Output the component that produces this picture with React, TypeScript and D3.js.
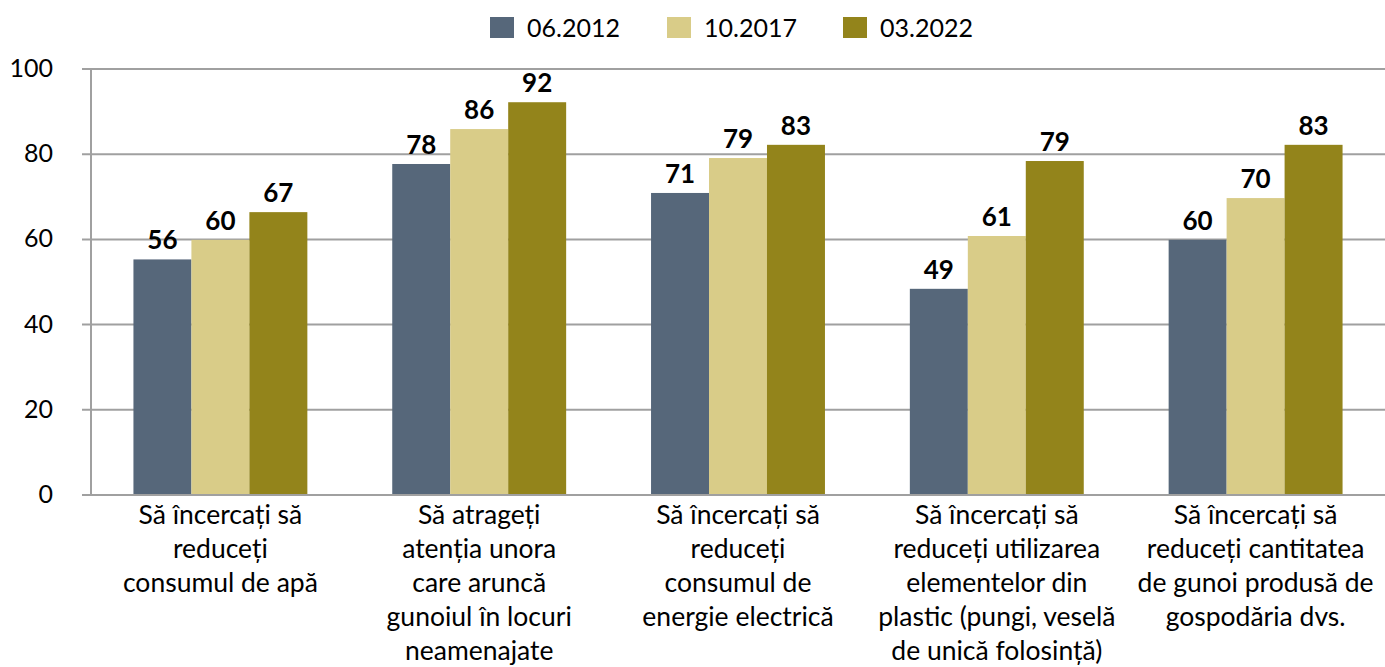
import React from "react";
import * as d3 from "d3";

const categories: string[][] = [
  ["Să încercați să", "reduceți", "consumul de apă"],
  ["Să atrageți", "atenția unora", "care aruncă", "gunoiul în locuri", "neamenajate"],
  ["Să încercați să", "reduceți", "consumul de", "energie electrică"],
  ["Să încercați să", "reduceți utilizarea", "elementelor din", "plastic (pungi, veselă", "de unică folosință)"],
  ["Să încercați să", "reduceți cantitatea", "de gunoi produsă de", "gospodăria dvs."],
];
const seriesNames = ["06.2012", "10.2017", "03.2022"];
const colors = ["#56677a", "#d9cc88", "#93841b"];
const s2012 = [55.3, 77.7, 70.9, 48.4, 59.9];
const s2017 = [59.9, 85.9, 79.1, 60.8, 69.7];
const s2022 = [66.4, 92.2, 82.2, 78.4, 82.2];
const l2012 = ["56", "78", "71", "49", "60"];
const l2017 = ["60", "86", "79", "61", "70"];
const l2022 = ["67", "92", "83", "79", "83"];
const yTicks = [0, 20, 40, 60, 80, 100];

const series = [s2012, s2017, s2022];
const labels = [l2012, l2017, l2022];

const W = 1385;
const H = 667;
const left = 91;
const right = 1385;
const top = 69;
const bottom = 495;
const font = "Lato, Carlito, Calibri, sans-serif";

export default function App() {
  const x0 = d3
    .scaleBand<number>()
    .domain(categories.map((_, i) => i))
    .range([left, right])
    .paddingInner(0.328)
    .paddingOuter(0.164);
  const x1 = d3.scaleBand<number>().domain([0, 1, 2]).range([0, x0.bandwidth()]);
  const y = d3.scaleLinear().domain([0, 100]).range([bottom, top]);

  const legendX = [490, 667, 843];

  return (
    <svg width={W} height={H} style={{ position: "absolute", left: 0, top: 0 }}>
      <rect width={W} height={H} fill="#fff" />
      {/* legend */}
      {seriesNames.map((n, i) => (
        <g key={n}>
          <rect x={legendX[i]} y={17} width={24} height={21} fill={colors[i]} />
          <text x={legendX[i] + 37} y={37} fontFamily={font} fontSize={25} fill="#000">
            {n}
          </text>
        </g>
      ))}
      {/* grid */}
      {yTicks.map((t) => (
        <g key={t}>
          <line x1={82} x2={right} y1={y(t)} y2={y(t)} stroke="#a0a0a0" strokeWidth={2} />
          <text x={53} y={y(t) + 8} textAnchor="end" fontFamily={font} fontSize={25} fill="#000">
            {t}
          </text>
        </g>
      ))}
      <line x1={left} x2={left} y1={top} y2={bottom} stroke="#a0a0a0" strokeWidth={2} />
      {/* bars */}
      {categories.map((_, ci) => (
        <g key={ci} transform={`translate(${x0(ci)},0)`}>
          {series.map((s, si) => (
            <rect
              key={si}
              x={x1(si)}
              y={y(s[ci])}
              width={x1.bandwidth()}
              height={bottom - y(s[ci])}
              fill={colors[si]}
            />
          ))}
          {series.map((s, si) => (
            <text
              key={"l" + si}
              x={(x1(si) as number) + x1.bandwidth() / 2}
              y={y(s[ci]) - 10}
              textAnchor="middle"
              fontFamily={font}
              fontWeight="bold"
              fontSize={26}
              fill="#000"
            >
              {labels[si][ci]}
            </text>
          ))}
        </g>
      ))}
      <line x1={82} x2={right} y1={bottom} y2={bottom} stroke="#a0a0a0" strokeWidth={2} />
      {/* category labels */}
      {categories.map((lines, ci) => (
        <text
          key={ci}
          x={(x0(ci) as number) + x0.bandwidth() / 2}
          textAnchor="middle"
          fontFamily={font}
          fontSize={26.5}
          fill="#000"
        >
          {lines.map((l, li) => (
            <tspan key={li} x={(x0(ci) as number) + x0.bandwidth() / 2} y={524 + li * 34}>
              {l}
            </tspan>
          ))}
        </text>
      ))}
    </svg>
  );
}
